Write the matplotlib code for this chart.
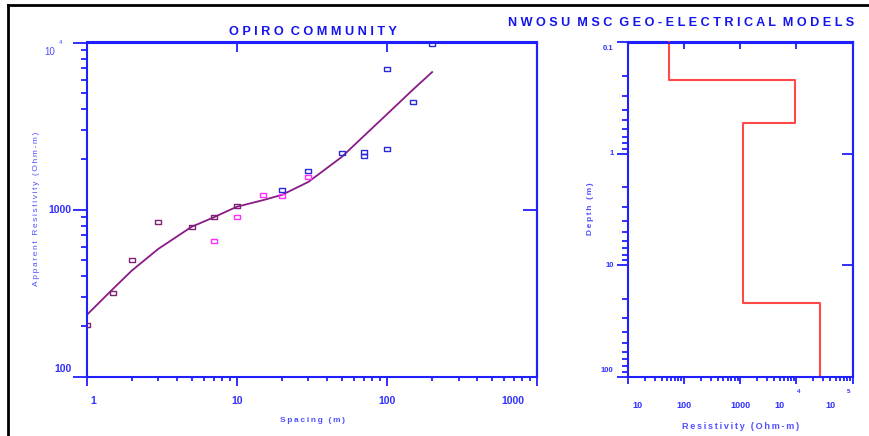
import matplotlib
matplotlib.use('Agg')
import matplotlib.pyplot as plt
import matplotlib.transforms as mtransforms
from matplotlib.lines import Line2D
from matplotlib.ticker import NullLocator, LogLocator, NullFormatter
import numpy as np

plt.rcParams['font.family'] = ['Liberation Sans', 'DejaVu Sans']

# field data (three overlapping segments)
spacing_a = [1, 1.5, 2, 3, 5, 7, 10]
rho_a = [204, 316, 498, 845, 789, 898, 1055]
spacing_b = [7, 10, 15, 20, 30]
rho_b = [649, 898, 1221, 1208, 1571]
spacing_c = [20, 30, 50, 70, 70, 100, 100, 150, 200]
rho_c = [1303, 1698, 2182, 2225, 2085, 2297, 6900, 4385, 9770]

# computed curve
calc_spacing = [1, 1.5, 2, 3, 5, 7, 10, 15, 20, 30, 50, 70, 100, 150, 200]
calc_rho = [234, 336, 432, 582, 789, 898, 1040, 1140, 1225, 1465, 2065, 2750, 3718, 5250, 6650]

# layered model
layer_rho = [55, 9480, 1100, 26000]
layer_depth = [0.1, 0.215, 0.524, 21.7, 100]

BLUE = '#2020ff'
TXT = '#3030ff'
LBL = '#5050ff'
W, H = 869, 436


def spaced(s, sep='\u2009'):
    return sep.join(s)


fig = plt.figure(figsize=(W / 100, H / 100), dpi=100)

# frame lines
fig.add_artist(Line2D([8 / W, 1], [1 - 5 / H, 1 - 5 / H], color='black', lw=2))
fig.add_artist(Line2D([8 / W, 8 / W], [0, 1 - 5 / H], color='black', lw=2))

bot = 1 - 376.7 / H
hgt = (376.7 - 42.5) / H
ax1 = fig.add_axes([86.7 / W, bot, (537 - 86.7) / W, hgt])
ax2 = fig.add_axes([627.7 / W, bot, (852.7 - 627.7) / W, hgt])


def pt_off(ax, tr, dx_px, dy_px):
    return mtransforms.offset_copy(tr, fig=fig, x=dx_px * 72 / 100, y=dy_px * 72 / 100, units='points')


def style_axes(ax):
    for sp in ax.spines.values():
        sp.set_color(BLUE)
        sp.set_linewidth(1.5)
    ax.tick_params(which='both', colors=BLUE, width=1.3,
                   labelleft=False, labelbottom=False)
    ax.xaxis.set_minor_formatter(NullFormatter())
    ax.yaxis.set_minor_formatter(NullFormatter())


# ---------- left: sounding curve ----------
ax1.set_xscale('log')
ax1.set_yscale('log')
ax1.set_xlim(1, 1000)
ax1.set_ylim(100, 10000)
style_axes(ax1)
ax1.set_xticks([1, 10, 100, 1000])
ax1.set_yticks([100, 1000, 10000])
ax1.xaxis.set_minor_locator(LogLocator(subs=np.arange(2, 10)))
ax1.yaxis.set_minor_locator(LogLocator(subs=np.arange(2, 10)))
ax1.tick_params(axis='y', which='major', direction='out', length=10)
ax1.tick_params(axis='y', which='minor', direction='out', length=4.3)
ax1.tick_params(axis='x', which='major', direction='out', length=6.5)
ax1.tick_params(axis='x', which='minor', direction='out', length=3.2)

top1 = ax1.secondary_xaxis('top')
top1.set_xticks([10, 100])
top1.xaxis.set_minor_locator(NullLocator())
top1.tick_params(direction='in', length=7, width=1.3, colors=BLUE, labeltop=False)
top1.spines['top'].set_color(BLUE)
top1.spines['top'].set_linewidth(1.5)
right1 = ax1.secondary_yaxis('right')
right1.set_yticks([1000])
right1.yaxis.set_minor_locator(NullLocator())
right1.tick_params(direction='in', length=10, width=1.3, colors=BLUE, labelright=False)
right1.spines['right'].set_color(BLUE)
right1.spines['right'].set_linewidth(1.5)

rect = [(-1, -0.62), (1, -0.62), (1, 0.62), (-1, 0.62), (-1, -0.62)]
ax1.plot(calc_spacing, calc_rho, color='#8a1a86', lw=1.3, zorder=2)
ax1.plot(spacing_a, rho_a, ls='none', marker=rect, ms=5, mfc='none', mec='#7e2272', mew=1.0, zorder=3)
ax1.plot(spacing_b, rho_b, ls='none', marker=rect, ms=5, mfc='none', mec='#ff30ff', mew=1.0, zorder=3)
ax1.plot(spacing_c, rho_c, ls='none', marker=rect, ms=5, mfc='none', mec='#2a2ad8', mew=1.0, zorder=3)

# tick labels
ytr = ax1.get_yaxis_transform()
xtr = ax1.get_xaxis_transform()
ax1.text(0, 1000, '1000', transform=pt_off(ax1, ytr, -15.5, 0), ha='right', va='center',
         fontsize=7.5, fontweight='bold', color=TXT)
ax1.text(0, 100, '100', transform=pt_off(ax1, ytr, -15.5, 8), ha='right', va='center',
         fontsize=7.5, fontweight='bold', color=TXT)
ax1.text(0, 10000, '10', transform=pt_off(ax1, ytr, -31.5, -9.5), ha='right', va='center',
         fontsize=7, color=LBL)
ax1.text(0, 10000, '4', transform=pt_off(ax1, ytr, -27.5, 0.5), ha='left', va='center',
         fontsize=4.5, color=LBL)
for xv, lab, dx in [(1, '1', 6.3), (10, '10', 0), (100, '100', 0), (1000, '1000', -24)]:
    ax1.text(xv, 0, lab, transform=pt_off(ax1, xtr, dx, -24), ha='center', va='center',
             fontsize=7.5, fontweight='bold', color=TXT)

fig.text(312 / W, 1 - 420 / H, spaced('Spacing (m)'), ha='center', va='center',
         fontsize=6, fontweight='bold', color=LBL)
fig.text(37 / W, 1 - 208.5 / H, spaced('Apparent Resistivity (Ohm-m)'), ha='center', va='center',
         rotation=90, fontsize=6, color=LBL)
fig.text(312.5 / W, 1 - 32 / H, '  '.join(spaced(w, ' ') for w in 'OPIRO COMMUNITY'.split()),
         ha='center', va='center', fontsize=9.2, fontweight='bold', color='#1414ee')
fig.text(681 / W, 1 - 23 / H, '  '.join(spaced(w, ' ') for w in 'NWOSU MSC GEO-ELECTRICAL MODELS'.split()),
         ha='center', va='center', fontsize=9.1, fontweight='bold', color='#1414ee')

# ---------- right: layered model ----------
ax2.set_xscale('log')
ax2.set_yscale('log')
ax2.set_xlim(10, 1e5)
ax2.set_ylim(100, 0.1)
style_axes(ax2)
ax2.set_xticks([10, 100, 1000, 1e4, 1e5])
ax2.set_yticks([0.1, 1, 10, 100])
ax2.xaxis.set_minor_locator(LogLocator(subs=np.arange(2, 10)))
ax2.yaxis.set_minor_locator(LogLocator(subs=np.arange(2, 10)))
ax2.tick_params(axis='y', which='major', direction='out', length=8)
ax2.tick_params(axis='y', which='minor', direction='out', length=4.3)
ax2.tick_params(axis='x', which='major', direction='out', length=5)
ax2.tick_params(axis='x', which='minor', direction='out', length=3)

top2 = ax2.secondary_xaxis('top')
top2.set_xticks([100, 1000, 1e4])
top2.xaxis.set_minor_locator(NullLocator())
top2.tick_params(direction='in', length=5, width=1.3, colors=BLUE, labeltop=False)
top2.spines['top'].set_color(BLUE)
top2.spines['top'].set_linewidth(1.5)
right2 = ax2.secondary_yaxis('right')
right2.set_yticks([1, 10])
right2.yaxis.set_minor_locator(NullLocator())
right2.tick_params(direction='in', length=8, width=1.3, colors=BLUE, labelright=False)
right2.spines['right'].set_color(BLUE)
right2.spines['right'].set_linewidth(1.5)

mx = np.repeat(layer_rho, 2)
my = np.repeat(layer_depth, 2)[1:-1]
ax2.plot(mx, my, color='#ff4848', lw=1.5, zorder=2, clip_on=False)

ytr2 = ax2.get_yaxis_transform()
xtr2 = ax2.get_xaxis_transform()
for yv, lab, dy in [(0.1, '0.1', -6.3), (1, '1', 0), (10, '10', 0), (100, '100', 5.7)]:
    ax2.text(0, yv, lab, transform=pt_off(ax2, ytr2, -14, dy), ha='right', va='center',
             fontsize=5.5, fontweight='bold', color=TXT)
for xv, lab, dx in [(10, '10', 10), (100, '100', 0), (1000, '1000', 0), (1e4, '10', -16.7), (1e5, '10', -22)]:
    ax2.text(xv, 0, lab, transform=pt_off(ax2, xtr2, dx, -28.3), ha='center', va='center',
             fontsize=6.5, fontweight='bold', color=TXT)
for xv, lab, dx in [(1e4, '4', 2), (1e5, '5', -4)]:
    ax2.text(xv, 0, lab, transform=pt_off(ax2, xtr2, dx, -14.3), ha='center', va='center',
             fontsize=4.5, fontweight='bold', color=TXT)

fig.text(591 / W, 1 - 209 / H, spaced('Depth (m)'), ha='center', va='center',
         rotation=90, fontsize=6, fontweight='bold', color=LBL)
fig.text(741 / W, 1 - 426 / H, spaced('Resistivity (Ohm-m)'), ha='center', va='center',
         fontsize=6.5, fontweight='bold', color=LBL)

fig.savefig('out.png', dpi=100)
